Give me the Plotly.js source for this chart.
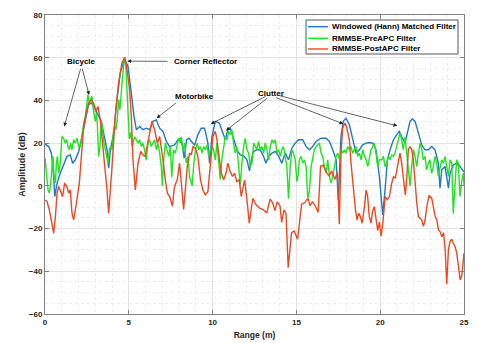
<!DOCTYPE html>
<html>
<head>
<meta charset="utf-8">
<script src="https://cdn.plot.ly/plotly-3.0.1.min.js"></script>
<style>
  html, body { margin: 0; padding: 0; background: #fff; }
  #myDiv { width: 491px; height: 343px; }
</style>
</head>
<body>
<div id="myDiv"></div>
<script>
var seriesNames = ['Windowed (Hann) Matched Filter', 'RMMSE-PreAPC Filter', 'RMMSE-PostAPC Filter'];
var seriesColors = ['#1f78c8', '#1ee61e', '#f2461e'];

// Windowed (Hann) matched filter
var hannX = [0, 0.22, 0.38, 0.52, 0.58, 0.72, 0.91, 1.11, 1.31, 1.51, 1.65, 1.81, 2.01, 2.21, 2.41, 2.6, 2.76, 2.96, 3.16, 3.36, 3.56, 3.7, 3.8, 3.9, 4.1, 4.29, 4.49, 4.69, 4.79,
  4.95, 5.15, 5.31, 5.45, 5.65, 5.84, 6.04, 6.24, 6.44, 6.64, 6.84, 7.04, 7.24, 7.43, 7.73, 7.93, 8.13, 8.3, 8.45, 8.6, 8.73, 8.93, 9.12, 9.32, 9.52, 9.72, 9.82, 9.96,
  10.16, 10.4, 10.6, 10.76, 10.91, 11.05, 11.25, 11.45, 11.65, 11.85, 12.05, 12.2, 12.35, 12.45, 12.64, 12.84, 13.04, 13.18, 13.34, 13.54, 13.74, 13.94, 14.13, 14.33, 14.53, 14.73, 14.93,
  15.13, 15.38, 15.58, 15.78, 15.97, 16.17, 16.47, 16.77, 16.97, 17.17, 17.37, 17.5, 17.66, 17.8, 17.96, 18.16, 18.36, 18.56, 18.76, 18.96, 19.16, 19.35, 19.55, 19.75, 19.95,
  20.15, 20.29, 20.43, 20.59, 20.79, 20.98, 21.14, 21.28, 21.48, 21.62, 21.78, 21.92, 22.08, 22.28, 22.48, 22.67, 22.87, 23.07, 23.27, 23.47, 23.57, 23.67, 23.87, 24.07, 24.17, 24.36, 24.56, 24.76, 24.96, 25];
var hannY = [19.5, 18.4, 15.3, 4.4, -5, 1.2, 5.9, 9.8, 13.8, 14.5, 10.6, 12.2, 16.1, 23.1, 31.7, 38, 38.8, 36.4, 33.3, 30.2, 22.3, 16.9, 8.3, 16.9, 24.7, 40.3, 52.8, 58, 58.6,
  56, 43.4, 32.5, 26.3, 27.8, 26.3, 27, 26.3, 30.2, 30.9, 27, 25.5, 20.8, 18.4, 19.2, 21.6, 22.3, 13, 21.6, 22.3, 20.8, 19.2, 23.9, 27, 27, 20, 10.6, 23.1,
  30.2, 29.4, 24.7, 21.6, 26.3, 27, 22.3, 16.9, 14.5, 14.1, 12.2, 7, 13.8, 16.1, 16.9, 16.9, 13.8, 10.6, 13.8, 15.3, 16.1, 13.8, 10.6, 15.3, 12.2, 17.7, 20,
  21.6, 21.6, 18.4, 16.9, 18.4, 20.8, 22.3, 22.3, 20.8, 16.9, 12.2, -6.6, 23.1, 30.2, 31.7, 28.6, 21.6, 15.3, 16.9, 19.2, 20, 20.3, 20, 16.9, 4.4,
  -13.6, -1.9, 12.2, 16.9, 21.6, 23.9, 25.5, 23.1, 20, 24.7, 30.2, 31.3, 30.2, 24.7, 19.2, 16.9, 16.9, 18.4, 16.9, 10.6, -1.1, 7.5, 9.1, -1.1, 5.9, 9.8, 10.6, 9.1, 6.7, 6.5];

// RMMSE-PreAPC filter
var preX = [0, 0.1, 0.18, 0.26, 0.34, 0.42, 0.48, 0.54, 0.62, 0.68, 0.74, 0.82, 0.91, 1.01, 1.11, 1.21, 1.29, 1.37, 1.45, 1.53, 1.61, 1.71, 1.81, 1.91, 2.01, 2.11, 2.21, 2.31, 2.41, 2.5, 2.56, 2.64, 2.72, 2.8, 2.86, 2.94, 3.0, 3.06, 3.12, 3.2, 3.28, 3.36, 3.44, 3.52, 3.6, 3.68, 3.76, 3.84, 3.92, 4.0, 4.08, 4.16, 4.23, 4.31, 4.39, 4.47, 4.55, 4.63, 4.71, 4.79, 4.83, 4.9, 4.97,
  5.03, 5.12, 5.2, 5.35, 5.45, 5.55, 5.65, 5.75, 5.84, 5.94, 6.04, 6.14, 6.24, 6.34, 6.44, 6.54, 6.64, 6.74, 6.84, 6.94, 7.0, 7.08, 7.18, 7.28, 7.38, 7.48, 7.56, 7.67, 7.77, 7.87, 7.97, 8.07, 8.13, 8.23, 8.33, 8.43, 8.53, 8.63, 8.78, 8.88, 8.98, 9.08, 9.18, 9.27, 9.37, 9.47, 9.57, 9.67, 9.77, 9.87, 9.97,
  10.06, 10.16, 10.26, 10.36, 10.46, 10.56, 10.66, 10.76, 10.86, 10.95, 11.05, 11.15, 11.25, 11.35, 11.45, 11.55, 11.65, 11.75, 11.85, 11.95, 12.05, 12.15, 12.25, 12.35, 12.45, 12.55, 12.64, 12.74, 12.84, 12.94, 13.04, 13.14, 13.24, 13.34, 13.44, 13.54, 13.64, 13.74, 13.84, 13.94, 14.04, 14.13, 14.23, 14.33, 14.43, 14.53, 14.63, 14.73, 14.83, 14.93,
  15.03, 15.1, 15.18, 15.28, 15.38, 15.48, 15.58, 15.68, 15.78, 15.88, 15.97, 16.07, 16.17, 16.37, 16.47, 16.57, 16.67, 16.77, 16.87, 16.97, 17.07, 17.17, 17.27, 17.37, 17.47, 17.57, 17.66, 17.76, 17.86, 17.96, 18.06, 18.16, 18.26, 18.36, 18.46, 18.56, 18.66, 18.76, 18.86, 18.96, 19.06, 19.16, 19.26, 19.35, 19.45, 19.55, 19.65, 19.75, 19.85, 19.95,
  20.09, 20.19, 20.29, 20.39, 20.49, 20.59, 20.69, 20.79, 20.88, 20.98, 21.08, 21.18, 21.28, 21.38, 21.48, 21.58, 21.68, 21.78, 21.88, 21.98, 22.08, 22.18, 22.28, 22.38, 22.48, 22.57, 22.67, 22.77, 22.87, 22.97, 23.07, 23.17, 23.27, 23.37, 23.47, 23.57, 23.67, 23.77, 23.87, 23.97, 24.07, 24.17, 24.27, 24.36, 24.46, 24.56, 24.66, 24.76, 24.86, 24.96, 25];
var preY = [13, 4.4, -1.9, -3.4, 1.3, 9.1, 13.8, 4.4, 1.3, 10.6, 13.8, 5.9, 10.6, 23.1, 22.3, 20, 21.6, 18.4, 16.9, 20, 16.9, 21.6, 20, 22.3, 18.4, 18.4, 24.7, 29.4, 32.5, 38.8, 42.7, 38.8, 40.3, 41.9, 37.2, 32.5, 30.2, 34.1, 29.4, 13.8, 18.4, 30.9, 24.7, 20, 16.9, 13.8, 10.6, 16.9, 18.4, 16.9, 24.7, 27.8, 26.3, 30.9, 40.3, 35.6, 45, 51.3, 57.5, 58.5, 55, 42, 28,
  22, 25, 18.4, 23, 21.5, 20, 21.5, 18.4, 20, 16.9, 12, 20, 21.5, 18.4, 20, 21.5, 16.9, 20, 15.3, 9, 0, 12, 20, 16.9, 13.8, 18.4, 4, 16.9, 15.3, 18.4, 22.3, 20, 23, 16.9, 20, 10.6, 13.8, 4, 0, 10.6, 16.9, 20, 16.9, 18.4, 15.3, 18.4, 16.9, 19.2, 13.8, 16.9, 18.4,
  17, 12, 20, 10.6, 3, 13, 18.4, 23, 21.5, 25.5, 24, 26.3, 20, 15.3, 18.4, 10.6, 0.5, 10.6, 18.4, 22.3, 16.9, 15.3, 9, 10.6, 20, 18.4, 16.9, 20.8, 16.9, 18.4, 15.3, 20, 16.9, 12, 18.4, 21.5, 20, 21.5, 15.3, 16.9, 13.8, 16.9, 18.4, 13.8, 9, -6, 9, 16.9, 15.3, 12.2,
  2, 5, 12.2, 13.8, 10.6, 12.2, 9, -6, -2, 9, 13.8, 16.9, 18.4, 20, 15.3, 13.8, 9, 6, 12.2, 4.4, 1.3, 4.4, 9, 13.8, 15.3, 12.2, 16.9, 15.3, 16.9, 15.3, 18.4, 16.9, 18.4, 15.3, 16.9, 18.4, 13.8, 15.3, 12.2, 16.9, 13.8, 12.2, 9, 13.8, 16.9, 18.4, 20, 15.3, 9, 12.2,
  12.2, 13.8, 9, 10.6, 13.8, 12.2, 14.5, 13.8, 15.3, 18.4, 21.5, 24.7, 21.5, 16.9, 23, 15.3, 7.5, 0, 9, 16.9, 13.8, 9, 15.3, 20, 16.9, 12.2, 13.8, 7.5, 10.6, 12.2, 5.9, 9, 13.8, 10.6, 4.4, 9, 12.2, 10.6, 13.8, 9, 4.4, 12.2, 10.6, -13, 1.3, 12.2, 10.6, -5, 2, 6, 0];

// RMMSE-PostAPC filter
var postX = [0, 0.12, 0.26, 0.42, 0.52, 0.62, 0.72, 0.82, 0.91, 1.05, 1.17, 1.31, 1.41, 1.51, 1.61, 1.71, 1.81, 1.91, 2.05, 2.17, 2.31, 2.45, 2.6, 2.76, 2.9, 3.04, 3.16, 3.3, 3.44, 3.6, 3.7, 3.8, 3.9, 4.0, 4.19, 4.39, 4.59, 4.75, 4.85, 4.95,
  5.05, 5.15, 5.25, 5.39, 5.55, 5.71, 5.84, 5.98, 6.1, 6.24, 6.38, 6.54, 6.7, 6.84, 6.94, 7.04, 7.18, 7.3, 7.44, 7.6, 7.73, 7.89, 8.03, 8.13, 8.27, 8.37, 8.49, 8.63, 8.73, 8.83, 8.97, 9.12, 9.28, 9.42, 9.56, 9.72, 9.88, 10.02,
  10.16, 10.26, 10.36, 10.52, 10.66, 10.8, 10.91, 11.05, 11.19, 11.31, 11.45, 11.59, 11.71, 11.79, 11.91, 12.05, 12.19, 12.4, 12.6, 12.83, 13.03, 13.23, 13.43, 13.58, 13.72, 13.86, 14.02, 14.12, 14.26, 14.38, 14.51, 14.71, 14.87,
  15.07, 15.21, 15.31, 15.51, 15.61, 15.71, 15.81, 15.95, 16.1, 16.3, 16.44, 16.6, 16.8, 16.96, 17.1, 17.3, 17.44, 17.56, 17.66, 17.76, 17.9, 18.0, 18.16, 18.26, 18.4, 18.52, 18.62, 18.72, 18.82, 18.92, 19.06, 19.16, 19.25, 19.35, 19.45, 19.55, 19.65, 19.75, 19.85, 19.95,
  20.05, 20.15, 20.3, 20.42, 20.55, 20.68, 20.8, 20.9, 21.0, 21.1, 21.18, 21.28, 21.38, 21.5, 21.58, 21.68, 21.78, 21.88, 21.98, 22.08, 22.18, 22.28, 22.38, 22.48, 22.58, 22.68, 22.78, 22.92, 23.08, 23.18, 23.28, 23.38, 23.48, 23.58, 23.68, 23.78, 23.88, 23.97, 24.07, 24.17, 24.27, 24.37, 24.47, 24.57, 24.67, 24.77, 24.87, 24.97, 25];
var postY = [-6.6, -7.3, -11.3, -19.1, -22.2, -14.4, -3.4, -0.3, -1.9, -5, 1.3, -0.3, -3.4, -1.9, -12.8, -15.9, -11.3, -5, 1.3, 13.8, 27.8, 34.1, 38.8, 40.3, 38.8, 34.8, 37.2, 30.9, 20, 7.5, -1.9, -12.8, -3.4, 9.1, 32.5, 48.1, 57.5, 60.2, 57, 52,
  45, 32.5, 12.2, -1.9, 10.6, 16.1, 14.5, 13.8, 18.4, 23.9, 30.2, 26.3, 20, 23.1, 18.4, 12.2, 2.8, -3.4, -5, -9.5, -0.3, 2.8, 10.6, -0.3, -11, -1.9, 9.1, 15.3, 14.5, 18.4, 17.7, 13.8, 2.8, -1.9, -4.2, -2.7, 12.2, 23.1,
  25.5, 21.6, 15.3, 5.9, 2.8, 5.9, 10.6, 6.7, 4.4, 5.9, 2, 2.8, -5, -1.9, 2.8, -6.6, -17.5, -5.8, -9, -10.5, -11.2, -12.7, -6.2, -7.9, -11.6, -7.5, -9.3, -17.1, -11.2, -13, -38.3, -21.9, -21.1,
  -25, -15.6, -8.6, -7.8, -6.5, -6.2, -9.3, -7.5, -9, -12.5, 9.3, 9.6, 6.2, 4.6, 7, 3, 6.2, -18, 15, 27, 29.4, 27.5, 21.6, 10.6, -2, -11, -16, -12.8, -14.4, -17.5, -9.7, -2, -5, -14.4, -17.5, -11.6, -9.7, -15.6, -21, -17,
  -23.5, -18, -5, -6.5, -5, 1, 4.4, 3.5, 7.5, 12, 15.3, 10.6, 4.4, -4.2, 3, 17, 18.4, 17, 12, 1.3, -8, -14.4, -15, -16, -19, -16, -9.7, -4.5, -6, -9.7, -14.4, -16, -20.6, -21.5, -23.8, -22, -30, -46, -30, -26, -25, -27, -28.5, -31.5, -38, -44, -42, -34, -31.5];

var fam = 'Liberation Sans, Arial, sans-serif';
var labelFont = {family: fam, size: 8, color: '#000', weight: 'bold'};
var arrowStyle = {axref: 'x', ayref: 'y', text: '', showarrow: true, arrowhead: 2, arrowsize: 1.1, arrowwidth: 0.7, arrowcolor: '#222', standoff: 0, startstandoff: 0};

function arrow(fromX, fromY, toX, toY) {
  return Object.assign({x: toX, y: toY, ax: fromX, ay: fromY}, arrowStyle);
}
function label(txt, x, y) {
  return {x: x, y: y, text: txt, showarrow: false, font: labelFont};
}

var data = [
  {x: hannX, y: hannY, name: seriesNames[0], type: 'scatter', mode: 'lines', line: {color: seriesColors[0], width: 1.4}},
  {x: preX, y: preY, name: seriesNames[1], type: 'scatter', mode: 'lines', line: {color: seriesColors[1], width: 1.4}},
  {x: postX, y: postY, name: seriesNames[2], type: 'scatter', mode: 'lines', line: {color: seriesColors[2], width: 1.4}}
];

// compact MATLAB-style legend box, drawn in paper coordinates
var legendRows = [0.9609, 0.9221, 0.8863];
var shapes = [{type: 'rect', xref: 'paper', yref: 'paper', x0: 0.623, x1: 0.9857, y0: 0.8696, y1: 0.9833,
               fillcolor: '#fff', line: {color: '#555', width: 1}, layer: 'above'}];
var annotations = [];
legendRows.forEach(function (yy, i) {
  shapes.push({type: 'line', xref: 'paper', yref: 'paper', x0: 0.6277, x1: 0.6754, y0: yy, y1: yy,
               line: {color: seriesColors[i], width: 1.4}, layer: 'above'});
  annotations.push({xref: 'paper', yref: 'paper', x: 0.6802, y: yy, xanchor: 'left', yanchor: 'middle',
                    text: seriesNames[i], showarrow: false, font: labelFont});
});

annotations = annotations.concat([
  label('Bicycle', 2.19, 58),
  arrow(2.15, 55.5, 1.15, 27.8),
  arrow(2.2, 55.5, 2.63, 42.6),
  label('Corner Reflector', 9.6, 58.2),
  arrow(7.4, 58.3, 4.91, 58.4),
  label('Motorbike', 8.9, 41.8),
  arrow(7.9, 39.3, 6.66, 31.7),
  label('Clutter', 13.5, 43.4),
  arrow(13.25, 42.2, 9.89, 29.0),
  arrow(13.35, 41.6, 10.8, 25.9),
  arrow(13.7, 41.6, 17.8, 29.0),
  arrow(13.9, 42.4, 21.02, 28.1)
]);

var layout = {
  width: 491, height: 343,
  margin: {l: 45, r: 27, t: 15, b: 29},
  paper_bgcolor: '#fff', plot_bgcolor: '#fff',
  font: {family: fam, size: 8, color: '#262626'},
  showlegend: false,
  xaxis: {
    range: [0, 25], tick0: 0, dtick: 5, zeroline: false,
    showline: true, linecolor: '#808080', linewidth: 1, mirror: 'ticks',
    ticks: 'inside', ticklen: 4, tickcolor: '#808080',
    showgrid: true, gridcolor: '#e3e3e3',
    minor: {dtick: 1, showgrid: true, gridcolor: '#ededed', griddash: 'dot', ticks: ''},
    tickfont: {size: 8, color: '#262626', weight: 'bold'},
    title: {text: 'Range (m)', standoff: 6, font: {size: 8.5, color: '#262626', weight: 'bold'}}
  },
  yaxis: {
    range: [-60, 80], tick0: 0, dtick: 20, zeroline: false,
    showline: true, linecolor: '#808080', linewidth: 1, mirror: 'ticks',
    ticks: 'inside', ticklen: 4, tickcolor: '#808080',
    showgrid: true, gridcolor: '#e3e3e3',
    minor: {dtick: 5, showgrid: true, gridcolor: '#ededed', griddash: 'dot', ticks: ''},
    tickfont: {size: 8, color: '#262626', weight: 'bold'},
    title: {text: 'Amplitude (dB)', standoff: 1, font: {size: 9, color: '#262626', weight: 'bold'}}
  },
  shapes: shapes,
  annotations: annotations
};

Plotly.newPlot('myDiv', data, layout, {displayModeBar: false, staticPlot: true});
</script>
</body>
</html>
